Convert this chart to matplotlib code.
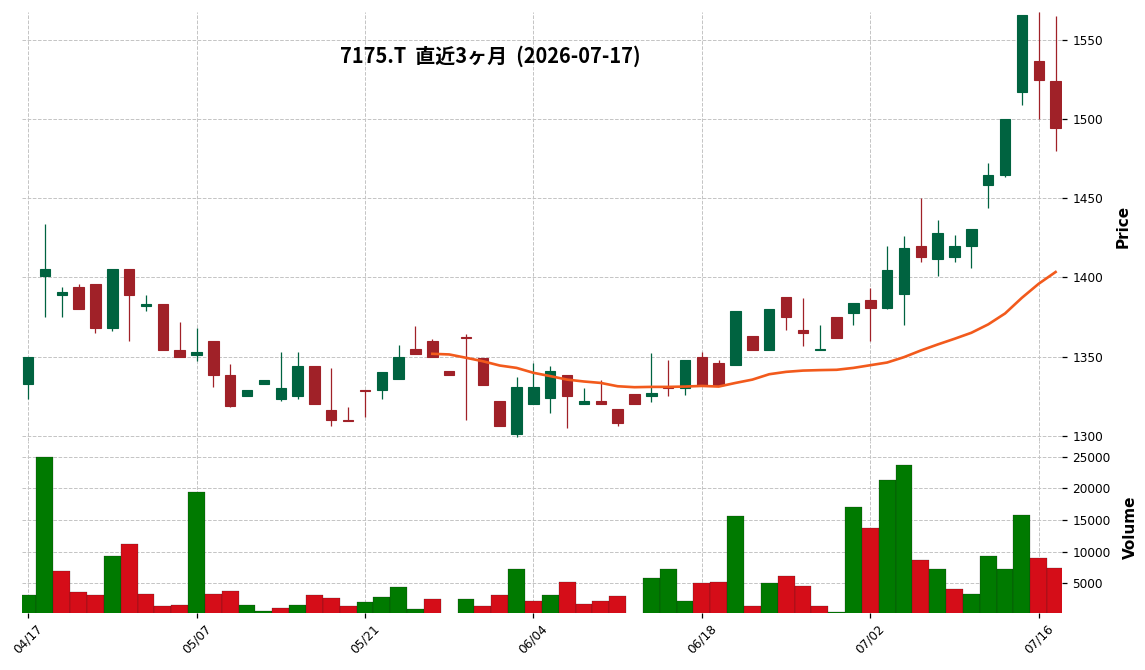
import matplotlib
matplotlib.use("Agg")
import matplotlib.pyplot as plt
import numpy as np
import pandas as pd

plt.rcParams['font.family'] = ['DejaVu Sans']

# trading days (TSE), 2026-04-17 .. 2026-07-17
jp_holidays = ['2026-04-29', '2026-05-04', '2026-05-05', '2026-05-06']
dates = pd.bdate_range('2026-04-17', '2026-07-17', freq='C', holidays=jp_holidays)

opens = [1332.5, 1401, 1389, 1394, 1396, 1368, 1405, 1382, 1383, 1354,
         1351, 1360, 1338, 1325, 1332.5, 1323, 1325, 1344, 1316.5, 1310,
         1329, 1329, 1336, 1355, 1360, 1341, 1362.2, 1349, 1322, 1301,
         1320, 1324, 1338, 1320, 1322, 1317, 1326, 1325, 1330.5, 1330,
         1350, 1346, 1344.5, 1363, 1354, 1387.6, 1367, 1354, 1375, 1377.4,
         1386, 1380.6, 1389.5, 1420, 1411.6, 1413, 1420, 1458.4, 1465, 1517,
         1537, 1524]
highs = [1350, 1434, 1394, 1396, 1396, 1405, 1405, 1389, 1383, 1372,
         1368, 1360, 1345, 1329, 1335.4, 1353, 1353, 1344, 1343, 1318,
         1329, 1340, 1357, 1369, 1361, 1341, 1364, 1349, 1322, 1337,
         1346, 1344, 1338, 1330, 1335, 1317, 1326, 1352, 1347.5, 1347.5,
         1353, 1348, 1379, 1363, 1380, 1387.6, 1387, 1370, 1375, 1384,
         1393, 1420, 1426, 1450, 1436, 1427, 1430.4, 1472, 1500, 1566,
         1568, 1565]
lows = [1323, 1375, 1375, 1380, 1365, 1366, 1360, 1379, 1354, 1350,
        1347, 1331, 1318, 1325, 1332.5, 1322, 1323, 1320, 1306, 1309,
        1311.6, 1323, 1336, 1351.5, 1350, 1338, 1310, 1332, 1306, 1299,
        1320, 1314, 1305, 1320, 1320, 1306, 1320, 1321, 1325, 1325.5,
        1332, 1332, 1344.5, 1354, 1354, 1366.7, 1356.5, 1354, 1361.6, 1370,
        1360, 1380, 1370, 1410, 1401, 1410, 1406, 1444, 1463.5, 1509,
        1500, 1480]
closes = [1350, 1405, 1391, 1380, 1368, 1405, 1389, 1383, 1354, 1350,
          1353, 1338, 1319, 1329, 1335, 1330, 1344, 1320, 1310, 1309,
          1328, 1340, 1350, 1351.5, 1350, 1338, 1361.6, 1332, 1306, 1331,
          1330.5, 1341, 1325, 1322, 1320, 1308, 1320, 1327, 1330, 1347.5,
          1332.3, 1332, 1379, 1354, 1380, 1375, 1365, 1355, 1361.6, 1384,
          1380.6, 1404.4, 1418.4, 1413, 1427.8, 1420, 1430.4, 1465, 1500, 1566,
          1525, 1494.5]
volumes = [3160, 25000, 6950, 3630, 3160, 9320, 11210, 3320, 1420, 1580,
           19420, 3320, 3790, 1580, 630, 1100, 1580, 3160, 2680, 1420,
           2050, 2840, 4420, 950, 2530, 0, 2530, 1420, 3160, 7260,
           2210, 3160, 5210, 1740, 2210, 3000, 0, 5840, 7260, 2210,
           5050, 5210, 15630, 1420, 5050, 6160, 4580, 1420, 470, 17050,
           13740, 21320, 23680, 8680, 7260, 4100, 3320, 9320, 7260, 15790,
           9000, 7420]
# 25-day moving average as drawn (starts at 25th bar)
ma25 = [1351.7, 1351.3, 1349.2, 1347.0, 1344.3, 1342.8, 1339.7, 1337.6, 1335.4, 1334.2,
        1333.3, 1331.2, 1330.6, 1330.8, 1330.8, 1331.0, 1331.4, 1331.0, 1333.3, 1335.4,
        1338.8, 1340.3, 1341.1, 1341.4, 1341.6, 1342.8, 1344.5, 1346.2, 1349.6, 1353.8,
        1357.6, 1361.2, 1365.0, 1370.3, 1377.2, 1387.1, 1396.0, 1403.4]

title = '7175.T  直近3ヶ月  (2026-07-17)'

UP, DOWN = '#006340', '#a02128'
VUP, VDOWN = '#007a00', '#d50d18'
GRID = '#c4c4c4'

o = np.array(opens)
h = np.array(highs)
l = np.array(lows)
c = np.array(closes)
v = np.array(volumes)
x = np.arange(len(dates))

fig = plt.figure(figsize=(11.45, 6.7), dpi=100)
ax = fig.add_axes([22 / 1145, 1 - 441 / 670, 1040 / 1145, 429.3 / 670])
axv = fig.add_axes([22 / 1145, 1 - 613 / 670, 1040 / 1145, 172 / 670], sharex=ax)

# candles
up = c >= o
ccol = np.where(up, UP, DOWN)
ax.vlines(x, l, h, colors=ccol, linewidth=0.9, zorder=3)
ax.bar(x, c - o, bottom=o, width=0.62, color=ccol, edgecolor=ccol,
       linewidth=0.8, zorder=4)
ax.plot(x[len(x) - len(ma25):], ma25, color='#f25a1c', linewidth=1.9, zorder=5)

# volume coloured by close vs previous close
prev = np.concatenate([[c[0]], c[:-1]])
vcol = np.where(c >= prev, VUP, VDOWN)
axv.bar(x, v, width=1.0, color=vcol, edgecolor='#1a1a1a', linewidth=0.15, zorder=3)

ax.set_ylim(1296.6, 1567.9)
axv.set_ylim(300, 27500)
ax.set_xlim(-0.36, len(x) - 1 + 0.38)

for a in (ax, axv):
    for s in a.spines.values():
        s.set_visible(False)
    a.grid(True, color=GRID, linestyle='--', linewidth=0.7)
    a.set_axisbelow(True)
    a.yaxis.tick_right()
    a.yaxis.set_label_position('right')
    a.tick_params(axis='y', length=3.5, width=0.9, pad=4, labelsize=8.7, direction='out')

ax.set_yticks([1300, 1350, 1400, 1450, 1500, 1550])
axv.set_yticks([5000, 10000, 15000, 20000, 25000])

ticks = x[::10]
axv.set_xticks(ticks)
axv.set_xticklabels([dates[i].strftime('%m/%d') for i in ticks], rotation=45, fontsize=8.7)
axv.tick_params(axis='x', length=3.5, width=0.9, pad=3)
ax.tick_params(axis='x', length=0, labelbottom=False)

ax.set_ylabel('Price', fontsize=11, fontweight='bold')
axv.set_ylabel('Volume', fontsize=11, fontweight='bold')
ax.yaxis.set_label_coords(1.0515, 0.5)
axv.yaxis.set_label_coords(1.0590, 0.5)

fig.text(490 / 1145, 1 - 56 / 670, title, ha='center', va='center',
         fontsize=14.4, fontweight='bold', family=['Noto Sans CJK JP', 'DejaVu Sans'])

fig.savefig('out.png', dpi=100)
